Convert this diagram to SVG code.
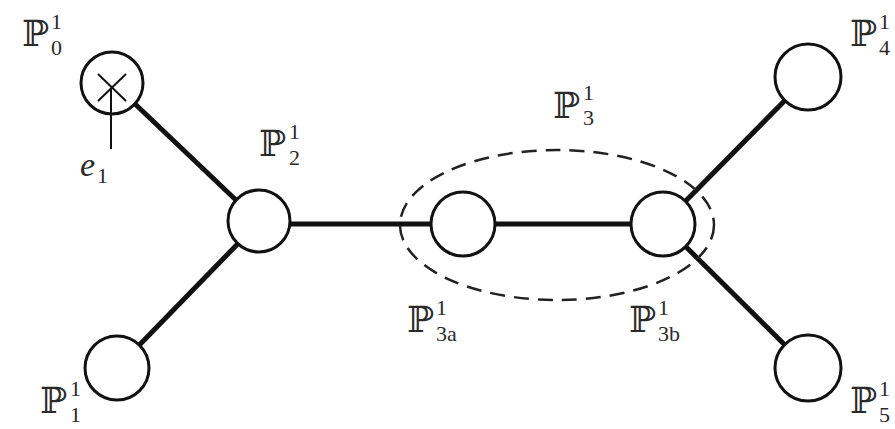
<svg xmlns="http://www.w3.org/2000/svg" width="895" height="429" viewBox="0 0 895 429">
  <style>
    .edge { stroke: #111; stroke-width: 5; fill: none; stroke-linecap: butt; }
    .node { stroke: #111; stroke-width: 3; fill: #fff; }
    .group { stroke: #222; stroke-width: 2.5; fill: none; stroke-dasharray: 15 9; }
    .thin { stroke: #111; stroke-width: 2; fill: none; }
    .P { font-family: "DejaVu Serif", "Noto Sans", serif; font-size: 36px; fill: #2a2a2a; }
    .s { font-family: "Liberation Serif", "DejaVu Serif", serif; font-size: 22px; fill: #2a2a2a; }
    .e { font-family: "Liberation Serif", "DejaVu Serif", serif; font-size: 34px; font-style: italic; fill: #2a2a2a; }
  </style>

  <!-- edges -->
  <g id="edges">
    <line class="edge" x1="113" y1="83" x2="259" y2="222"/>
    <line class="edge" x1="117" y1="368" x2="259" y2="222"/>
    <line class="edge" x1="259" y1="224" x2="463" y2="224"/>
    <line class="edge" x1="463" y1="224" x2="663" y2="224"/>
    <line class="edge" x1="663" y1="224" x2="808" y2="77"/>
    <line class="edge" x1="663" y1="224" x2="808" y2="368"/>
  </g>

  <!-- dashed grouping of P3 -->
  <g id="P3">
    <ellipse class="group" cx="557" cy="225" rx="157" ry="75"/>
    <text class="P" x="553" y="118">ℙ</text>
    <text class="s" x="583" y="100">1</text>
    <text class="s" x="583" y="125">3</text>
  </g>

  <g id="P0">
    <circle class="node" cx="112" cy="83" r="31"/>
    <line class="thin" x1="98" y1="74" x2="126" y2="101"/>
    <line class="thin" x1="126" y1="74" x2="98" y2="101"/>
    <line class="thin" x1="111" y1="88" x2="111" y2="149"/>
    <text class="P" x="22" y="46">ℙ</text>
    <text class="s" x="51" y="29">1</text>
    <text class="s" x="51" y="55">0</text>
    <text class="e" x="80" y="176">e</text>
    <text class="s" x="97" y="183">1</text>
  </g>

  <g id="P1">
    <circle class="node" cx="117" cy="368" r="32"/>
    <text class="P" x="40" y="413">ℙ</text>
    <text class="s" x="70" y="396">1</text>
    <text class="s" x="70" y="422">1</text>
  </g>

  <g id="P2">
    <circle class="node" cx="259" cy="221" r="31"/>
    <text class="P" x="259" y="156">ℙ</text>
    <text class="s" x="289" y="139">1</text>
    <text class="s" x="289" y="165">2</text>
  </g>

  <g id="P3a">
    <circle class="node" cx="463" cy="224" r="32"/>
    <text class="P" x="407" y="332">ℙ</text>
    <text class="s" x="436" y="315">1</text>
    <text class="s" x="436" y="341">3a</text>
  </g>

  <g id="P3b">
    <circle class="node" cx="663" cy="224" r="32"/>
    <text class="P" x="629" y="332">ℙ</text>
    <text class="s" x="658" y="315">1</text>
    <text class="s" x="658" y="341">3b</text>
  </g>

  <g id="P4">
    <circle class="node" cx="808" cy="77" r="33"/>
    <text class="P" x="850" y="46">ℙ</text>
    <text class="s" x="879" y="29">1</text>
    <text class="s" x="879" y="55">4</text>
  </g>

  <g id="P5">
    <circle class="node" cx="808" cy="368" r="33"/>
    <text class="P" x="850" y="413">ℙ</text>
    <text class="s" x="879" y="396">1</text>
    <text class="s" x="879" y="422">5</text>
  </g>
</svg>
